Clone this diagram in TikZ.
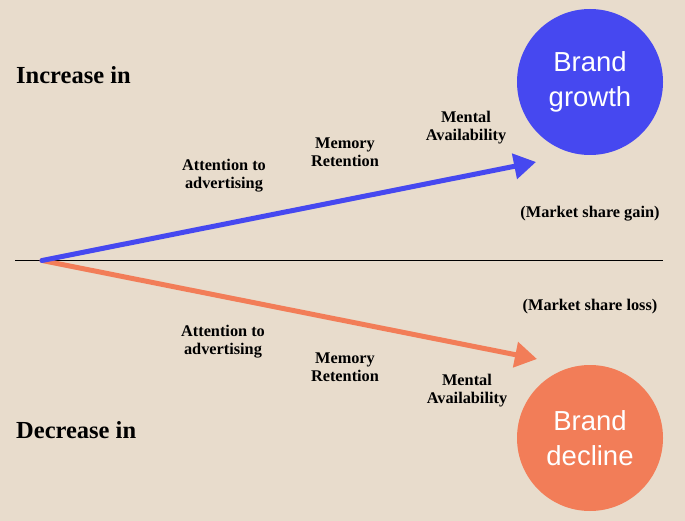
\documentclass[tikz,border=0pt]{standalone}
\usepackage{fontspec}
\setmainfont{Liberation Serif}
\setsansfont{Liberation Sans}
\usetikzlibrary{arrows.meta}
\definecolor{paper}{RGB}{232,220,204}
\definecolor{upblue}{RGB}{70,72,240}
\definecolor{downorange}{RGB}{242,125,88}

\begin{document}
\begin{tikzpicture}[x=1pt, y=-1pt,
	factor/.style={align=center, font=\bfseries\fontsize{16.3}{18}\selectfont, inner sep=0pt},
	side/.style={anchor=base west, font=\bfseries\fontsize{24.5}{28}\selectfont, inner sep=0pt},
	outcome/.style={circle, minimum size=146pt, inner sep=0pt, align=center, text=white, font=\sffamily\fontsize{27.5}{35}\selectfont},
	trend/.style={line width=5pt, line cap=round, -{Triangle[length=22pt, width=25pt]}}]
	% Background, axis and arrows:
	\fill[paper] (0, 0) rectangle (685, 521);
	\useasboundingbox (0, 0) rectangle (685, 521);
	\coordinate (axisL) at (15, 260.5);
	\coordinate (axisR) at (663, 260.5);
	\coordinate (start) at (42, 260.5);
	\coordinate (tipUp) at (536, 162);
	\coordinate (tipDown) at (537, 359);
	\draw[line width=1pt] (axisL) -- (axisR);
	\draw[trend, downorange] (start) -- (tipDown);
	\draw[trend, upblue] (start) -- (tipUp);
	% Outcomes:
	\node[outcome, fill=upblue](growth) at (590, 82){Brand\\growth};
	\node[outcome, fill=downorange](decline) at (590, 438){Brand\\decline};
	\node[side](increase) at (16, 84){Increase in};
	\node[side](decrease) at (16, 438){Decrease in};
	% Factors above the axis:
	\node[factor](attnUp) at (224, 176){Attention to\\advertising};
	\node[factor](memUp) at (345, 152){Memory\\Retention};
	\node[factor](mentUp) at (466, 128){Mental\\Availability};
	\node[factor, anchor=base](gain) at (590, 218){(Market share gain)};
	% Factors below the axis:
	\node[factor](attnDown) at (223, 342){Attention to\\advertising};
	\node[factor](memDown) at (345, 367){Memory\\Retention};
	\node[factor](mentDown) at (467, 391){Mental\\Availability};
	\node[factor, anchor=base](loss) at (590, 310){(Market share loss)};
\end{tikzpicture}
\end{document}
